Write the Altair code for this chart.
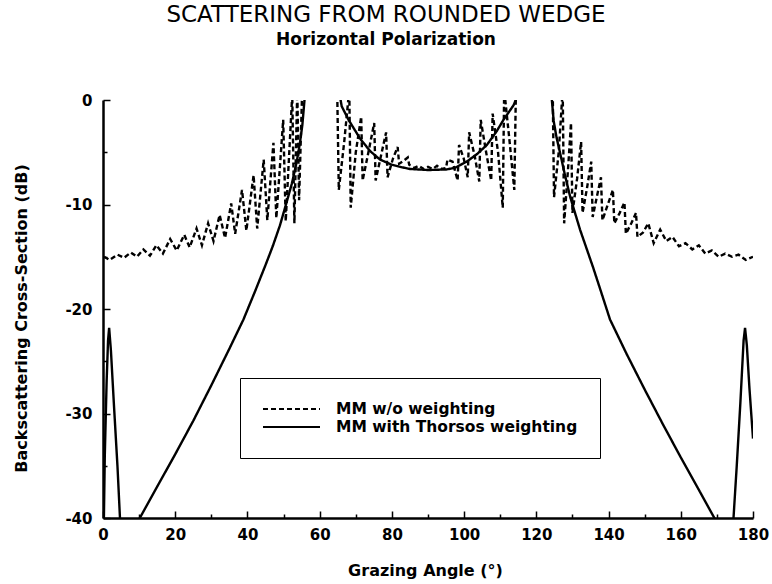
import altair as alt
import pandas as pd

# ---- data ----
series_names = ["MM w/o weighting", "MM with Thorsos weighting"]

dashed_angle = [
    0.3, 1.8, 4.0, 5.8, 7.7, 9.4, 11.2, 13.0, 14.8, 16.6, 18.6, 20.4, 22.5, 24.0,
    25.9, 27.4, 29.1, 30.6, 32.3, 33.8, 35.5, 36.6, 38.5, 39.7, 41.7, 42.7, 44.5,
    45.5, 47.2, 48.0, 49.9, 50.6, 52.4, 53.0, 53.8, 54.3, 55.2, 55.6, 56.0, 64.5,
    64.8, 65.3, 66.8, 68.2, 68.6, 70.0, 71.5, 71.9, 73.5, 75.1, 75.5, 77.0, 78.4,
    78.8, 80.3, 81.6, 82.0, 83.3, 84.4, 84.8, 86.2, 87.5, 88.8, 90.0, 91.3, 92.5,
    93.8, 95.0, 95.4, 96.8, 98.2, 98.6, 99.9, 101.0, 101.4, 102.9, 104.2, 104.6,
    106.1, 107.5, 107.9, 109.4, 110.7, 111.1, 112.6, 113.9, 114.4, 115.0, 124.0,
    124.5, 124.9, 126.2, 127.3, 127.7, 128.8, 129.6, 130.0, 131.3, 132.4, 132.8,
    134.0, 135.2, 135.6, 136.8, 137.9, 138.3, 139.8, 141.2, 141.6, 143.1, 144.4,
    144.8, 146.3, 147.6, 148.0, 149.5, 151.0, 152.5, 154.3, 156.0, 157.7, 159.5,
    161.3, 163.2, 165.0, 166.8, 168.6, 170.5, 172.3, 174.2, 176.0, 178.0, 180.0,
]
dashed_db = [
    -15.0, -15.3, -14.8, -15.1, -14.6, -15.0, -14.3, -14.9, -13.9, -14.7, -13.3, -14.4, -12.9, -14.1,
    -12.3, -13.9, -11.8, -13.5, -11.0, -13.2, -9.9, -12.8, -8.6, -12.5, -7.2, -12.3, -5.7,
    -11.5, -4.1, -11.3, -1.9, -11.6, 0.5, -11.8, 1.0, -9.6, 1.5, 8.0, 15.0, 15.0,
    2.0, -8.6, -4.0, 1.0, -10.3, -5.0, -1.6, -7.7, -5.0, -2.2, -7.7, -5.3, -3.1,
    -7.4, -5.6, -4.5, -6.1, -5.8, -5.5, -6.2, -6.5, -6.3, -6.6, -6.4, -6.6, -6.3,
    -6.6, -6.5, -5.7, -5.9, -7.7, -4.3, -5.6, -7.4, -3.1, -5.3, -7.8, -1.9,
    -5.0, -7.7, -1.3, -5.0, -10.3, 1.0, -4.0, -8.6, 2.0, 15.0, 15.0,
    2.0, -9.3, -5.0, 1.0, -11.8, -6.5, -2.2, -10.8, -7.5, -4.0, -10.8,
    -8.5, -5.9, -11.2, -9.2, -7.4, -11.5, -10.0, -8.6, -11.8, -10.8, -9.8,
    -12.8, -11.8, -10.8, -13.1, -12.7, -11.8, -13.7, -12.4, -13.5, -13.1, -14.0,
    -13.7, -14.3, -13.9, -14.7, -14.4, -15.0, -14.7, -15.0, -14.8, -15.3, -15.0,
]

solid_angle = [
    0.0, 0.5, 1.0, 1.4, 1.7, 2.2, 3.0, 4.0, 4.7, 6.0, 8.5, 10.2, 15.0, 20.0, 25.0,
    30.0, 35.0, 38.9, 42.0, 45.0, 47.0, 49.0, 51.0, 52.3, 53.6, 54.5, 55.2, 55.8,
    56.5, 58.0, 63.0, 65.2, 65.8, 66.1, 68.0, 71.2, 74.0, 76.7, 80.0, 82.3, 85.0,
    90.0, 95.0, 97.4, 100.7, 103.5, 106.3, 109.0, 110.9, 113.7, 114.3, 115.0, 117.0,
    122.0, 123.8, 124.3, 124.8, 125.6, 126.6, 128.0, 129.4, 132.1, 135.7, 137.5, 140.4,
    145.0, 150.0, 155.0, 160.0, 165.0, 169.3, 171.0, 173.0, 174.6, 175.5, 176.5,
    177.4, 177.8, 178.3, 179.0, 180.0,
]
solid_db = [
    -46.0, -34.0, -27.0, -23.0, -21.8, -24.0, -29.0, -35.0, -40.0, -46.0, -47.0, -40.0, -37.0, -33.9, -30.7,
    -27.3, -23.8, -21.0, -18.4, -15.8, -14.0, -12.0, -9.6, -8.0, -6.0, -4.2, -2.4, 0.0,
    3.0, 15.0, 15.0, 2.0, 0.0, -0.6, -1.9, -3.7, -4.9, -5.7, -6.2, -6.4, -6.6,
    -6.7, -6.65, -6.5, -5.9, -5.2, -4.3, -3.0, -1.9, -0.5, 0.0, 3.0, 15.0,
    15.0, 2.0, 0.0, -2.0, -3.6, -5.1, -7.3, -9.3, -12.4, -16.0, -17.9, -21.0,
    -24.3, -27.7, -31.0, -34.2, -37.3, -40.0, -46.0, -46.0, -40.0, -35.0, -29.0,
    -23.0, -21.8, -23.5, -27.5, -32.4,
]

x_ticks = list(range(0, 181, 10))
y_ticks = [0, -5, -10, -15, -20, -25, -30, -35, -40]

rows = []
for i, (a, d) in enumerate(zip(dashed_angle, dashed_db)):
    rows.append({"angle": a, "db": d, "series": series_names[0], "idx": i})
for i, (a, d) in enumerate(zip(solid_angle, solid_db)):
    rows.append({"angle": a, "db": d, "series": series_names[1], "idx": i})
df = pd.DataFrame(rows)

FONT = "DejaVu Sans"
PLOT_W, PLOT_H = 650, 418

x_axis = alt.Axis(
    values=x_ticks,
    labelExpr="datum.value % 20 === 0 ? datum.label : ''",
    ticks=False, tickSize=0,
    grid=True, gridColor="black", gridWidth=1.5, gridOpacity=1,
    # grid lines run from the top edge down to the axis: draw only the last few pixels
    gridDash={"condition": {"test": "datum.value % 20 === 0",
                            "value": [0, PLOT_H - 7, 7, 2000]},
              "value": [0, PLOT_H - 4, 4, 2000]},
    domainColor="black", domainWidth=2.5,
    labelFont=FONT, labelFontWeight="bold", labelFontSize=15, labelColor="black",
    labelPadding=9, labelFlush=False, labelOverlap=False,
    titleFont=FONT, titleFontWeight="bold", titleFontSize=16, titleColor="black",
    titleX=322, titleY=57, titleBaseline="alphabetic", titleAlign="center",
)
y_axis = alt.Axis(
    values=y_ticks,
    labelExpr="datum.value % 10 === 0 ? '' + datum.value : ''",
    ticks=False, tickSize=0,
    grid=True, gridColor="black", gridWidth=1.5, gridOpacity=1,
    gridDash={"condition": {"test": "datum.value % 10 === 0", "value": [7, 2000]},
              "value": [4, 2000]},
    domainColor="black", domainWidth=2.5,
    labelFont=FONT, labelFontWeight="bold", labelFontSize=15, labelColor="black",
    labelPadding=11, labelOverlap=False,
    titleFont=FONT, titleFontWeight="bold", titleFontSize=16, titleColor="black",
    titleX=-77, titleY=218, titleAngle=270, titleAlign="center", titleBaseline="alphabetic",
)

chart = alt.Chart(df).mark_line(clip=True, strokeWidth=2.4, color="black").encode(
    x=alt.X("angle:Q", scale=alt.Scale(domain=[0, 180], nice=False, zero=False),
            axis=x_axis, title="Grazing Angle (°)"),
    y=alt.Y("db:Q", scale=alt.Scale(domain=[-40, 0], nice=False, zero=False),
            axis=y_axis, title="Backscattering Cross-Section (dB)"),
    strokeDash=alt.StrokeDash(
        "series:N",
        scale=alt.Scale(domain=series_names, range=[[5, 3], [1, 0]]),
        legend=alt.Legend(
            title=None, orient="none", legendX=137, legendY=278,
            strokeColor="black", fillColor="white", padding=22,
            symbolType="stroke", symbolSize=3249, symbolStrokeWidth=2,
            symbolStrokeColor="black", clipHeight=18, rowPadding=0,
            labelFont=FONT, labelFontWeight="bold", labelFontSize=15.5,
            labelColor="black", labelOffset=15, labelLimit=400,
        ),
    ),
    order="idx:Q",
).properties(
    width=PLOT_W, height=PLOT_H,
    title=alt.TitleParams(
        text="SCATTERING FROM ROUNDED WEDGE", subtitle="Horizontal Polarization",
        font=FONT, fontSize=23, fontWeight="normal", color="black",
        subtitleFont=FONT, subtitleFontSize=17, subtitleFontWeight="bold",
        subtitleColor="black", subtitlePadding=5,
        anchor="middle", dx=-42, offset=45,
    ),
    autosize=alt.AutoSizeParams(type="none"),
    padding={"left": 103, "top": 100, "right": 19, "bottom": 66},
    background="white",
).configure_view(stroke=None)

chart.save("out.html", embed_options={"renderer": "svg", "actions": False})
